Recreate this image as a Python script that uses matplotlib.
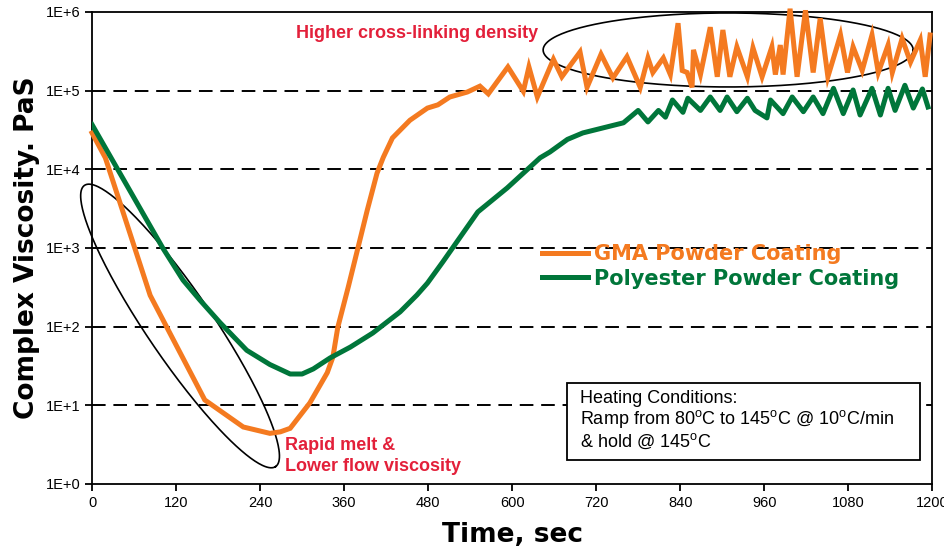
import numpy as np
import matplotlib.pyplot as plt
from matplotlib.patches import Rectangle

plt.rcParams['font.family'] = ['Liberation Sans', 'DejaVu Sans']
plt.rcParams['mathtext.fontset'] = 'custom'
plt.rcParams['mathtext.rm'] = 'Liberation Sans'

# GMA powder coating (time s, complex viscosity Pa.s)
gma_time = [0, 19, 83, 161, 216, 254, 269, 283, 311, 336, 344, 351, 366, 380, 393, 407,
            416, 429, 454, 479, 494, 511, 536,
            554, 566, 594, 616, 624, 636, 659, 671, 697, 707, 727, 744, 764, 783,
            794, 801, 816, 826, 837, 843, 850, 857, 859, 869, 883, 893, 901, 911, 921,
            936, 944, 957, 971, 976, 983, 987, 997, 1007, 1019, 1030, 1040, 1051, 1069,
            1079, 1087, 1100, 1114, 1123, 1137, 1143, 1157, 1169, 1183, 1190, 1197]
gma_visc = [2.9e4, 1.4e4, 250, 11.7, 5.3, 4.4, 4.6, 5.1, 10.7, 26, 41, 98, 320, 1020, 3000,
            8900, 1.42e4, 2.5e4, 4.2e4, 6.0e4, 6.6e4, 8.3e4, 9.6e4,
            1.14e5, 9.1e4, 2.0e5, 9.8e4, 2.0e5, 8.3e4, 2.5e5,
            1.5e5, 3.1e5, 1.1e5, 2.9e5, 1.45e5, 2.7e5, 1.1e5, 2.6e5, 1.7e5, 2.6e5, 1.6e5,
            7.2e5, 1.8e5, 1.7e5, 1.1e5, 3.3e5, 1.6e5, 6.4e5, 1.5e5, 5.9e5, 1.5e5, 3.6e5,
            1.5e5, 3.5e5, 1.5e5, 3.6e5, 1.6e5, 3.8e5, 1.6e5, 1.1e6, 1.5e5, 1.05e6, 1.7e5,
            8.3e5, 1.5e5, 5.1e5, 1.7e5, 3.6e5, 1.8e5, 5.1e5, 1.7e5, 3.8e5, 1.7e5, 4.6e5,
            2.3e5, 4.4e5, 1.5e5, 5.1e5]

# Polyester powder coating
pe_time = [0, 101, 130, 154, 183, 221, 254, 283, 300, 316, 340, 369, 401, 440, 464, 479,
           501, 551, 593, 640, 654, 679, 701, 759, 780, 794, 809, 819, 829, 844, 851, 869,
           883, 897, 907, 921, 936, 947, 964, 969, 987, 1000, 1016, 1030, 1044, 1059, 1073,
           1087, 1097, 1114, 1126, 1137, 1147, 1161, 1173, 1186, 1194]
pe_visc = [3.7e4, 1000, 390, 218, 112, 50, 33, 25, 25, 29, 40, 55, 83, 154, 252, 357,
           665, 2870, 5800, 1.4e4, 1.66e4, 2.4e4, 2.9e4, 3.9e4, 5.6e4, 4.0e4, 5.6e4, 4.6e4,
           7.6e4, 5.3e4, 8.0e4, 5.6e4, 8.3e4, 5.6e4, 8.3e4, 5.4e4, 8.0e4, 5.6e4, 4.5e4,
           7.6e4, 5.1e4, 8.3e4, 5.4e4, 8.3e4, 5.1e4, 1.07e5, 5.1e4, 1.02e5, 4.9e4, 1.07e5,
           4.9e4, 1.07e5, 5.6e4, 1.17e5, 6.0e4, 1.05e5, 6.2e4]

x_ticks = list(range(0, 1201, 120))
y_ticks = [1, 10, 100, 1e3, 1e4, 1e5, 1e6]
y_labels = ['1E+0', '1E+1', '1E+2', '1E+3', '1E+4', '1E+5', '1E+6']

orange = '#F47A20'
green = '#00763A'
red = '#E3203A'
heavy = ['DejaVu Sans']

fig = plt.figure(figsize=(9.44, 5.54), dpi=100)
ax = fig.add_axes([0.0975, 0.1264, 0.89, 0.852])

ax.plot(gma_time, gma_visc, color=orange, lw=3.6, solid_joinstyle='miter',
        label='GMA Powder Coating', clip_on=False, zorder=3)
ax.plot(pe_time, pe_visc, color=green, lw=3.6, label='Polyester Powder Coating', zorder=3)

ax.set_yscale('log')
ax.set_ylim(1, 1e6)
ax.set_xlim(0, 1200)
ax.set_xticks(x_ticks)
ax.set_yticks(y_ticks)
ax.set_yticklabels(y_labels)
ax.minorticks_off()
ax.tick_params(labelsize=10.5, length=5, width=1.3, direction='out')
for s in ax.spines.values():
    s.set_linewidth(1.3)

# dashed decade lines
for v in y_ticks[1:-1]:
    ax.axhline(v, color='black', lw=1.4, ls=(0, (7, 4)), zorder=1)

ax.set_xlabel('Time, sec', fontsize=19, fontweight='bold', family=heavy, labelpad=9)
ax.set_ylabel('Complex Viscosity. PaS', fontsize=19, fontweight='bold', family=heavy,
              labelpad=4)

# ellipses drawn in axes pixel space (840 x 472)
W, H = 840.0, 472.0
t = np.linspace(0, 2 * np.pi, 300)
# top ellipse
cx, cy, a, b = 636, 434, 185, 37
ax.plot((cx + a * np.cos(t)) / W, (cy + b * np.sin(t)) / H, color='black', lw=1.2,
        transform=ax.transAxes, clip_on=False, zorder=2)
# bottom-left ellipse
cx, cy, a, b, ang = 88, 158, 170, 33, np.deg2rad(-55.8)
ex = cx + a * np.cos(t) * np.cos(ang) - b * np.sin(t) * np.sin(ang)
ey = cy + a * np.cos(t) * np.sin(ang) + b * np.sin(t) * np.cos(ang)
ax.plot(ex / W, ey / H, color='black', lw=1.2, transform=ax.transAxes, clip_on=False, zorder=2)

ax.text(0.387, 0.955, 'Higher cross-linking density', color=red, fontsize=13,
        fontweight='bold', ha='center', va='center', transform=ax.transAxes)
ax.text(0.230, 0.100, 'Rapid melt &\nLower flow viscosity', color=red, fontsize=13,
        fontweight='bold', ha='left', va='top', transform=ax.transAxes, linespacing=1.3)

leg = ax.legend(loc='center left', bbox_to_anchor=(0.513, 0.461), frameon=False,
                handlelength=2.2, handletextpad=0.3, labelspacing=0.22,
                prop={'weight': 'bold', 'size': 15, 'family': heavy})
for txt, c in zip(leg.get_texts(), [orange, green]):
    txt.set_color(c)

# heating conditions box
ax.add_patch(Rectangle((0.5655, 0.0508), 0.420, 0.163, transform=ax.transAxes,
                       fc='white', ec='black', lw=1.3, zorder=4))
ax.text(0.581, 0.200,
        'Heating Conditions:\n'
        'Ramp from 80$^{\\mathrm{o}}$C to 145$^{\\mathrm{o}}$C @ 10$^{\\mathrm{o}}$C/min\n'
        '& hold @ 145$^{\\mathrm{o}}$C',
        fontsize=13, ha='left', va='top', transform=ax.transAxes, linespacing=1.1, zorder=5)

fig.savefig('out.png', dpi=100)
